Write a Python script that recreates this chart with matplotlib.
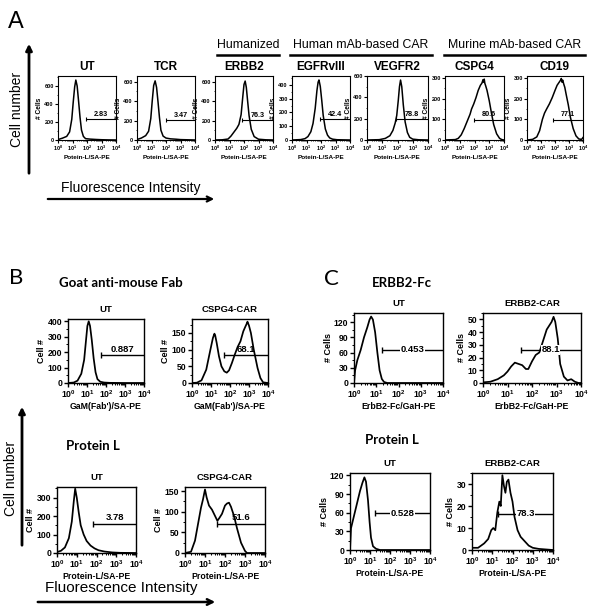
import numpy as np
import matplotlib
matplotlib.use("Agg")
import matplotlib.pyplot as plt
from matplotlib.ticker import LogLocator, MultipleLocator, NullFormatter, FuncFormatter, AutoMinorLocator

plt.rcParams["font.family"] = ["Liberation Sans", "DejaVu Sans"]
plt.rcParams["mathtext.fontset"] = "custom"
plt.rcParams["mathtext.rm"] = "Liberation Sans:bold"
plt.rcParams["mathtext.bf"] = "Liberation Sans:bold"

# ---- panel A: Protein-L staining, log10 fluorescence vs # cells ----
a_titles = ["UT", "TCR", "ERBB2", "EGFRvIII", "VEGFR2", "CSPG4", "CD19"]
a_ymax = [710, 657, 657, 465, 600, 310, 310]
a_ystep = [200, 200, 200, 100, 200, 100, 100]

a_ut_logx = [0, 0.3, 0.6, 0.8, 0.95, 1.05, 1.15, 1.23, 1.32, 1.42, 1.52, 1.62, 1.75, 1.9, 2.2, 2.6, 3.0, 3.5, 4.0]
a_ut_cells = [5, 20, 40, 90, 230, 420, 590, 665, 600, 430, 250, 110, 40, 15, 10, 6, 3, 1, 0]
a_tcr_logx = [0, 0.3, 0.6, 0.8, 0.95, 1.05, 1.15, 1.25, 1.35, 1.45, 1.55, 1.65, 1.8, 2.0, 2.3, 2.7, 3.0, 3.5, 4.0]
a_tcr_cells = [5, 20, 45, 90, 220, 400, 560, 607, 540, 390, 230, 100, 40, 20, 12, 8, 4, 2, 0]
a_erbb2_logx = [0, 0.5, 0.9, 1.1, 1.3, 1.5, 1.65, 1.8, 1.92, 2.0, 2.08, 2.16, 2.25, 2.35, 2.5, 2.7, 3.0, 3.5, 4.0]
a_erbb2_cells = [0, 2, 10, 40, 80, 120, 160, 260, 450, 570, 605, 540, 400, 250, 110, 35, 8, 2, 0]
a_egfr_logx = [0, 0.6, 0.9, 1.1, 1.3, 1.45, 1.6, 1.72, 1.8, 1.86, 1.95, 2.05, 2.15, 2.3, 2.45, 2.6, 2.8, 3.1, 3.5, 4.0]
a_egfr_cells = [0, 3, 10, 25, 60, 120, 230, 360, 420, 436, 390, 290, 180, 80, 35, 15, 6, 2, 1, 0]
a_vegfr2_logx = [0, 0.8, 1.2, 1.5, 1.7, 1.85, 1.95, 2.05, 2.13, 2.2, 2.28, 2.38, 2.5, 2.65, 2.8, 3.0, 3.4, 4.0]
a_vegfr2_cells = [0, 3, 15, 40, 90, 160, 230, 370, 500, 562, 500, 330, 170, 70, 25, 8, 2, 0]
a_cspg4_logx = [0, 0.7, 0.9, 1.1, 1.3, 1.5, 1.7, 1.8, 1.95, 2.1, 2.25, 2.4, 2.5, 2.58, 2.62, 2.66, 2.7,
                2.76, 2.85, 3.0, 3.15, 3.3, 3.5, 3.7, 3.85, 4.0]
a_cspg4_cells = [0, 2, 8, 25, 55, 90, 125, 150, 175, 205, 240, 265, 275, 292, 280, 295, 275,
                 262, 240, 190, 130, 75, 30, 8, 2, 0]
a_cd19_logx = [0, 0.4, 0.7, 0.9, 1.1, 1.25, 1.4, 1.6, 1.8, 2.0, 2.15, 2.3, 2.4, 2.45, 2.5, 2.55, 2.62,
               2.7, 2.8, 2.95, 3.1, 3.3, 3.5, 3.7, 3.9, 4.0]
a_cd19_cells = [0, 3, 15, 45, 100, 130, 150, 175, 205, 240, 265, 280, 290, 298, 280, 290, 272,
                255, 220, 170, 110, 55, 20, 5, 3, 12]

a_gate_start = [1.93, 2.0, 1.87, 1.93, 1.92, 1.99, 1.86]
a_gate_level = [230, 205, 207, 150, 194, 99, 99]
a_gate_pct = ["2.83", "3.47", "76.3", "42.4", "78.8", "80.6", "77.1"]

# ---- panel B: CSPG4-CAR, goat anti-mouse Fab and Protein L ----
b_titles = ["UT", "CSPG4-CAR", "UT", "CSPG4-CAR"]
b_xlabels = ["GaM(Fab')/SA-PE", "GaM(Fab')/SA-PE", "Protein-L/SA-PE", "Protein-L/SA-PE"]
b_ymax = [415, 192, 357, 160]
b_ystep = [100, 50, 100, 50]

b_gam_ut_logx = [0, 0.3, 0.5, 0.7, 0.85, 0.95, 1.02, 1.09, 1.16, 1.25, 1.35, 1.45, 1.55, 1.7, 1.9, 2.2, 3.0, 4.0]
b_gam_ut_cells = [0, 3, 15, 60, 150, 280, 370, 400, 370, 280, 160, 70, 25, 8, 3, 1, 0, 0]
b_gam_car_logx = [0, 0.26, 0.5, 0.75, 0.95, 1.1, 1.18, 1.22, 1.3, 1.42, 1.55, 1.7, 1.83, 1.95, 2.1, 2.25,
                  2.4, 2.55, 2.7, 2.8, 2.88, 2.92, 3.0, 3.1, 3.25, 3.45, 3.6, 3.74, 4.0]
b_gam_car_cells = [0, 1, 8, 40, 95, 135, 148, 143, 120, 80, 50, 35, 31, 38, 60, 85,
                   108, 125, 155, 168, 178, 184, 172, 150, 100, 45, 15, 2, 0]
b_pl_ut_logx = [0, 0.2, 0.4, 0.6, 0.75, 0.85, 0.92, 1.0, 1.1, 1.2, 1.35, 1.5, 1.7, 1.9, 2.1, 2.4, 2.8, 3.2, 4.0]
b_pl_ut_cells = [5, 12, 30, 80, 170, 280, 348, 300, 220, 150, 100, 65, 40, 25, 15, 8, 3, 1, 0]
b_pl_car_logx = [0, 0.3, 0.5, 0.65, 0.8, 0.9, 1.0, 1.08, 1.2, 1.35, 1.5, 1.62, 1.72, 1.85, 2.0, 2.1,
                 2.2, 2.3, 2.45, 2.6, 2.8, 3.0, 3.1, 4.0]
b_pl_car_cells = [0, 3, 30, 70, 110, 130, 154, 135, 115, 105, 90, 78, 85, 95, 115, 120,
                  122, 112, 90, 60, 25, 5, 0, 0]

b_gate_start = [1.74, 1.7, 1.83, 1.62]
b_gate_level = [182, 84, 159, 71]
b_gate_pct = ["0.887", "68.1", "3.78", "51.6"]

# ---- panel C: ERBB2-CAR, ERBB2-Fc and Protein L ----
c_titles = ["UT", "ERBB2-CAR", "UT", "ERBB2-CAR"]
c_xlabels = ["ErbB2-Fc/GaH-PE", "ErbB2-Fc/GaH-PE", "Protein-L/SA-PE", "Protein-L/SA-PE"]
c_ymax = [138, 55, 124, 35]
c_ystep = [30, 10, 30, 10]

c_fc_ut_logx = [0, 0.05, 0.15, 0.3, 0.45, 0.6, 0.7, 0.77, 0.85, 0.95, 1.05, 1.15, 1.25, 1.35, 1.5, 4.0]
c_fc_ut_cells = [0, 25, 45, 65, 90, 110, 125, 131, 125, 100, 60, 25, 8, 2, 0, 0]
c_fc_car_logx = [0, 0.3, 0.6, 0.85, 1.0, 1.15, 1.3, 1.45, 1.6, 1.75, 1.85, 2.0, 2.15, 2.3, 2.45, 2.6,
                 2.7, 2.8, 2.88, 2.95, 3.05, 3.15, 3.3, 3.45, 3.6, 3.75, 3.9, 4.0]
c_fc_car_cells = [0.5, 1, 3, 6, 9, 13, 16, 15, 14, 11, 11, 17, 22, 24, 33, 42,
                  45, 48, 52, 48, 35, 15, 5, 2, 3, 1, 0, 0]
c_pl_ut_logx = [0, 0.05, 0.2, 0.35, 0.5, 0.62, 0.72, 0.8, 0.9, 0.98, 1.05, 1.15, 1.3, 1.5, 4.0]
c_pl_ut_cells = [0, 35, 55, 75, 95, 108, 117, 110, 80, 45, 20, 6, 2, 0, 0]
c_pl_car_logx = [0, 0.3, 0.6, 0.8, 0.95, 1.05, 1.15, 1.25, 1.35, 1.42, 1.5, 1.58, 1.65, 1.72, 1.8,
                 1.9, 2.0, 2.1, 2.25, 2.4, 2.6, 2.8, 3.0, 3.3, 4.0]
c_pl_car_cells = [1, 1, 3, 5, 9, 10, 9, 17, 22, 20, 34, 29, 26, 31, 32,
                  26, 22, 15, 9, 6, 4, 2, 1, 0.5, 0]

c_gate_start = [1.25, 1.54, 1.25, 1.29]
c_gate_level = [66, 26, 59, 16.4]
c_gate_pct = ["0.453", "88.1", "0.528", "78.3"]

W, H = 600, 610


def rect(l, t, r, b):
    return [l / W, 1 - b / H, (r - l) / W, (b - t) / H]


def exp_fmt(v, _):
    return r"$\mathbf{10^{%d}}$" % int(round(np.log10(v)))


def draw_hist(fig, box, logx, cells, ymax, ystep, title, xlabel, ylabel,
              gate_start, gate_level, pct, small, label_on_line=False):
    ax = fig.add_axes(rect(*box))
    ax.plot(10 ** np.array(logx), cells, color="black", lw=1.1 if small else 1.25)
    ax.set_xscale("log")
    ax.set_xlim(1, 1e4)
    ax.set_ylim(0, ymax)
    ax.xaxis.set_major_locator(LogLocator(base=10, numticks=6))
    ax.xaxis.set_minor_locator(LogLocator(base=10, subs=np.arange(2, 10), numticks=20))
    ax.xaxis.set_major_formatter(FuncFormatter(exp_fmt))
    ax.xaxis.set_minor_formatter(NullFormatter())
    ax.yaxis.set_major_locator(MultipleLocator(ystep))
    ax.yaxis.set_minor_locator(AutoMinorLocator(2))

    fs = 4 if small else 6.2
    lw = 0.8 if small else 1.0
    for s in ax.spines.values():
        s.set_linewidth(lw)
    ax.tick_params(which="major", direction="out", length=2 if small else 3, width=lw,
                   labelsize=fs, pad=1)
    ax.tick_params(which="minor", direction="out", length=1 if small else 1.6, width=lw * 0.7)
    for lab in ax.get_yticklabels():
        lab.set_fontweight("bold")

    ax.set_title(title, fontsize=8.5 if small else 6.8, fontweight="bold",
                 pad=4 if small else 5)
    ax.set_xlabel(xlabel, fontsize=4.6 if small else 6.3, fontweight="bold", labelpad=1)
    ax.set_ylabel(ylabel, fontsize=4.8 if small else 6.5, fontweight="bold", labelpad=1)

    # gate bar
    g0 = 10 ** gate_start
    ax.plot([g0, 1e4], [gate_level, gate_level], color="black", lw=0.8 if small else 1.0,
            solid_capstyle="butt")
    ax.plot([g0], [gate_level], marker="|", color="black", ms=3 if small else 4,
            mew=0.8 if small else 1.0)
    mid = 10 ** ((gate_start + 4) / 2)
    if label_on_line:
        ax.text(mid, gate_level, pct, fontsize=fs + 0.6, fontweight="bold", ha="center",
                va="center", bbox=dict(facecolor="white", edgecolor="none", pad=0.3))
    else:
        ax.text(mid, gate_level + ymax * 0.02, pct, fontsize=fs + (1.2 if small else 0.6),
                fontweight="bold", ha="center", va="bottom")
    return ax


fig = plt.figure(figsize=(W / 100, H / 100), dpi=100)

# overlay in pixel coordinates for arrows and headings
ov = fig.add_axes([0, 0, 1, 1])
ov.set_xlim(0, W)
ov.set_ylim(H, 0)
ov.axis("off")

# ---- panel A ----
a_boxes = [(58, 76, 116, 140), (137, 76, 195, 140), (215, 76, 273, 140), (292, 76, 350, 140),
           (367, 76, 428, 140), (445, 76, 504, 140), (527, 76, 583, 140)]
a_logx = [a_ut_logx, a_tcr_logx, a_erbb2_logx, a_egfr_logx, a_vegfr2_logx, a_cspg4_logx, a_cd19_logx]
a_cells = [a_ut_cells, a_tcr_cells, a_erbb2_cells, a_egfr_cells, a_vegfr2_cells, a_cspg4_cells, a_cd19_cells]
for i in range(len(a_titles)):
    draw_hist(fig, a_boxes[i], a_logx[i], a_cells[i], a_ymax[i], a_ystep[i], a_titles[i],
              "Potein-L/SA-PE", "# Cells", a_gate_start[i], a_gate_level[i], a_gate_pct[i], True)

ov.text(16, 22, "A", fontsize=17, ha="center", va="center")
ov.annotate("", xy=(29, 41), xytext=(29, 176),
            arrowprops=dict(arrowstyle="-|>", lw=2, color="black", mutation_scale=9))
ov.text(17, 109, "Cell number", rotation=90, fontsize=10, ha="center", va="center")
ov.text(131, 188, "Fluorescence Intensity", fontsize=10, ha="center", va="center")
ov.annotate("", xy=(217, 199), xytext=(45, 199),
            arrowprops=dict(arrowstyle="->", lw=1.6, color="black", mutation_scale=9))

groups = ["Humanized", "Human mAb-based CAR", "Murine mAb-based CAR"]
group_spans = [(217, 279), (290, 432), (444, 585)]
for name, (x0, x1) in zip(groups, group_spans):
    ov.plot([x0, x1], [55, 55], color="black", lw=1.8)
    ov.text((x0 + x1) / 2, 45, name, fontsize=8.8, ha="center", va="center")

# ---- panel B ----
b_boxes = [(68, 319, 144, 383), (192, 319, 268, 383), (57, 487, 136, 553), (185, 487, 265, 553)]
b_logx = [b_gam_ut_logx, b_gam_car_logx, b_pl_ut_logx, b_pl_car_logx]
b_cells = [b_gam_ut_cells, b_gam_car_cells, b_pl_ut_cells, b_pl_car_cells]
for i in range(4):
    draw_hist(fig, b_boxes[i], b_logx[i], b_cells[i], b_ymax[i], b_ystep[i], b_titles[i],
              b_xlabels[i], "Cell #", b_gate_start[i], b_gate_level[i], b_gate_pct[i], False)

ov.text(16, 278, "B", fontsize=16, family="Lato", ha="center", va="center")
ov.text(59, 283, "Goat anti-mouse Fab", fontsize=9.5, family="Lato", fontweight="bold", va="center")
ov.text(66, 446, "Protein L", fontsize=9.5, family="Lato", fontweight="bold", va="center")
ov.annotate("", xy=(22, 404), xytext=(22, 548),
            arrowprops=dict(arrowstyle="-|>", lw=2, color="black", mutation_scale=9))
ov.text(11, 478, "Cell number", rotation=90, fontsize=10, ha="center", va="center")
ov.text(121, 588, "Fluorescence Intensity", fontsize=11, ha="center", va="center")
ov.annotate("", xy=(218, 602), xytext=(35, 602),
            arrowprops=dict(arrowstyle="->", lw=1.8, color="black", mutation_scale=10))

# ---- panel C ----
c_boxes = [(354, 313, 443, 383), (483, 313, 581, 383), (350, 473, 430, 550), (472, 473, 553, 550)]
c_logx = [c_fc_ut_logx, c_fc_car_logx, c_pl_ut_logx, c_pl_car_logx]
c_cells = [c_fc_ut_cells, c_fc_car_cells, c_pl_ut_cells, c_pl_car_cells]
for i in range(4):
    draw_hist(fig, c_boxes[i], c_logx[i], c_cells[i], c_ymax[i], c_ystep[i], c_titles[i],
              c_xlabels[i], "# Cells", c_gate_start[i], c_gate_level[i], c_gate_pct[i], False,
              label_on_line=True)

ov.text(331, 279, "C", fontsize=16, family="Lato", ha="center", va="center")
ov.text(372, 283, "ERBB2-Fc", fontsize=9.5, family="Lato", fontweight="bold", va="center")
ov.text(365, 440, "Protein L", fontsize=9.5, family="Lato", fontweight="bold", va="center")

fig.savefig("out.png", dpi=100)
plt.close(fig)
